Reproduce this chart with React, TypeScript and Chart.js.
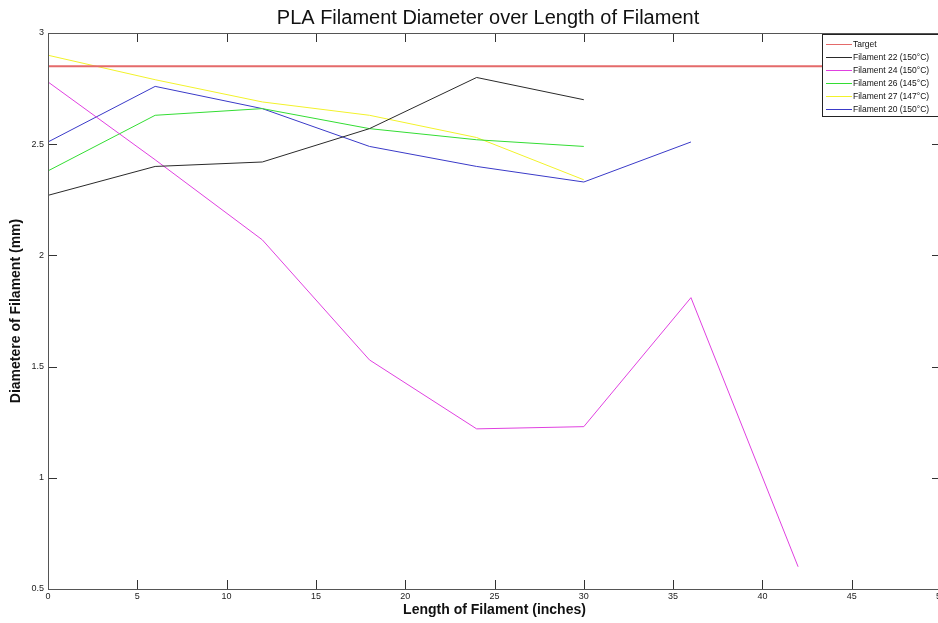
import React, { useEffect, useRef } from "react";
import { Chart, registerables } from "chart.js";

Chart.register(...registerables);

const chartTitle = "PLA Filament Diameter over Length of Filament";
const xAxisTitle = "Length of Filament (inches)";
const yAxisTitle = "Diametere of Filament (mm)";

const lengths = [0, 6, 12, 18, 24, 30, 36, 42];
const targetX = [0, 50];
const targetY = [2.85, 2.85];
const filament22 = [2.27, 2.4, 2.42, 2.57, 2.8, 2.7];
const filament24 = [2.78, 2.43, 2.07, 1.53, 1.22, 1.23, 1.81, 0.6];
const filament26 = [2.38, 2.63, 2.66, 2.57, 2.52, 2.49];
const filament27 = [2.9, 2.79, 2.69, 2.63, 2.53, 2.34];
const filament20 = [2.51, 2.76, 2.66, 2.49, 2.4, 2.33, 2.51];

const seriesLabels = [
  "Target",
  "Filament 22 (150\u00b0C)",
  "Filament 24 (150\u00b0C)",
  "Filament 26 (145\u00b0C)",
  "Filament 27 (147\u00b0C)",
  "Filament 20 (150\u00b0C)",
];
const seriesColors = ["#e46a6a", "#2a2a2a", "#e040e0", "#33dd33", "#f2f22a", "#3a3ac8"];
const seriesWidths = [2, 1, 1, 1, 1, 1];

const xMin = 0;
const xMax = 50;
const xStep = 5;
const yMin = 0.5;
const yMax = 3;
const yStep = 0.5;

function pts(xs: number[], ys: number[]) {
  return ys.map((y, i) => ({ x: xs[i], y }));
}

const W = 950;
const H = 623;

const matlabPlugin = {
  id: "matlabFrame",
  afterDatasetsDraw(chart: any) {
    const { ctx, chartArea, scales } = chart;
    const { left, right, top, bottom } = chartArea;
    ctx.save();
    // inward ticks
    ctx.strokeStyle = "#333";
    ctx.lineWidth = 1;
    const tl = 9;
    ctx.beginPath();
    scales.x.ticks.forEach((t: any) => {
      const px = Math.round(scales.x.getPixelForValue(t.value)) + 0.5;
      ctx.moveTo(px, bottom);
      ctx.lineTo(px, bottom - tl);
      ctx.moveTo(px, top);
      ctx.lineTo(px, top + tl);
    });
    scales.y.ticks.forEach((t: any) => {
      const py = Math.round(scales.y.getPixelForValue(t.value)) + 0.5;
      ctx.moveTo(left, py);
      ctx.lineTo(left + tl, py);
      ctx.moveTo(right, py);
      ctx.lineTo(right - tl, py);
    });
    ctx.stroke();
    // frame
    ctx.strokeStyle = "#555";
    ctx.strokeRect(Math.round(left) + 0.5, Math.round(top) + 0.5, Math.round(right - left), Math.round(bottom - top));

    // legend
    const lx = 822.5;
    const ly = 34.5;
    ctx.fillStyle = "#fff";
    ctx.fillRect(lx, ly, 200, 82);
    ctx.strokeStyle = "#222";
    ctx.strokeRect(lx, ly, 200, 82);
    ctx.font = "8.5px 'Liberation Sans', Arial, sans-serif";
    ctx.textBaseline = "middle";
    ctx.textAlign = "left";
    chart.data.datasets.forEach((ds: any, i: number) => {
      const y = 44.5 + i * 13;
      ctx.strokeStyle = ds.borderColor;
      ctx.lineWidth = 1;
      ctx.beginPath();
      ctx.moveTo(826, y);
      ctx.lineTo(852, y);
      ctx.stroke();
      ctx.fillStyle = "#111";
      ctx.fillText(ds.label, 853, y + 0.5);
    });

    // title
    ctx.fillStyle = "#111";
    ctx.font = "20px 'Liberation Sans', Arial, sans-serif";
    ctx.textAlign = "center";
    ctx.textBaseline = "middle";
    ctx.fillText(chartTitle, 488, 18);
    ctx.restore();
  },
};

export default function App() {
  const ref = useRef<HTMLCanvasElement | null>(null);
  useEffect(() => {
    document.body.style.margin = "0";
    document.body.style.overflow = "hidden";
    const canvas = ref.current;
    if (!canvas) return;
    const series = [
      pts(targetX, targetY),
      pts(lengths, filament22),
      pts(lengths, filament24),
      pts(lengths, filament26),
      pts(lengths, filament27),
      pts(lengths, filament20),
    ];
    const chart = new Chart(canvas, {
      type: "line",
      data: {
        datasets: series.map((d, i) => ({
          label: seriesLabels[i],
          data: d,
          borderColor: seriesColors[i],
          backgroundColor: seriesColors[i],
          borderWidth: seriesWidths[i],
          pointRadius: 0,
          tension: 0,
          fill: false,
        })),
      },
      options: {
        responsive: false,
        animation: false,
        layout: { padding: { top: 33, right: 9, left: 0, bottom: 0 } },
        plugins: {
          legend: { display: false },
          title: { display: false },
          tooltip: { enabled: false },
        },
        scales: {
          x: {
            type: "linear",
            min: xMin,
            max: xMax,
            ticks: {
              stepSize: xStep,
              padding: 2,
              color: "#222",
              maxRotation: 0,
              autoSkip: false,
              callback: (v: any) => String(Number(v)),
              font: { family: "'Liberation Sans Narrow', 'Liberation Sans', Arial, sans-serif", size: 9 },
            },
            grid: { display: false, drawTicks: false },
            border: { display: false },
            title: {
              display: true,
              text: xAxisTitle,
              color: "#111",
              padding: { top: 0, bottom: 4 },
              font: { family: "'Liberation Sans', Arial, sans-serif", size: 14, weight: "bold" },
            },
            afterFit: (s: any) => {
              s.height = 34;
            },
          },
          y: {
            type: "linear",
            min: yMin,
            max: yMax,
            ticks: {
              stepSize: yStep,
              padding: 4,
              color: "#222",
              callback: (v: any) => String(Number(v)),
              font: { family: "'Liberation Sans', Arial, sans-serif", size: 9 },
            },
            grid: { display: false, drawTicks: false },
            border: { display: false },
            title: {
              display: true,
              text: yAxisTitle,
              color: "#111",
              padding: { top: 8, bottom: 0 },
              font: { family: "'Liberation Sans', Arial, sans-serif", size: 14, weight: "bold" },
            },
            afterFit: (s: any) => {
              s.width = 48;
            },
          },
        },
      },
      plugins: [matlabPlugin],
    });
    return () => chart.destroy();
  }, []);
  return (
    <div style={{ width: W, height: H, overflow: "hidden", background: "#fff" }}>
      <canvas ref={ref} width={W} height={H} style={{ display: "block" }} />
    </div>
  );
}
